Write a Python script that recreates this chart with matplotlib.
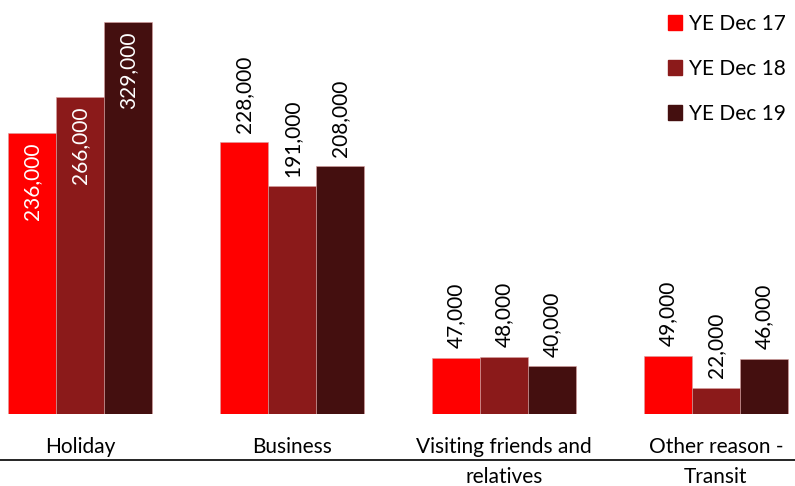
import numpy as np
import matplotlib
matplotlib.use("Agg")
import matplotlib.pyplot as plt
from matplotlib.lines import Line2D
from matplotlib.patches import Patch
import matplotlib.transforms as mtransforms

# Data
categories = ["Holiday", "Business", "Visiting friends and\nrelatives", "Other reason -\nTransit"]
series_names = ["YE Dec 17", "YE Dec 18", "YE Dec 19"]
ye_dec_17 = [236000, 228000, 47000, 49000]
ye_dec_18 = [266000, 191000, 48000, 22000]
ye_dec_19 = [329000, 208000, 40000, 46000]
colors = ["#FF0000", "#8B1A1A", "#440F0F"]

plt.rcParams["font.family"] = ["Lato", "DejaVu Sans"]
FS = 15

fig = plt.figure(figsize=(7.95, 4.86), dpi=100)
ax = fig.add_axes([0, 72 / 486, 1, 1 - 72 / 486 - 9 / 486])

x = np.arange(len(categories))
width = 48 / 212
all_series = [ye_dec_17, ye_dec_18, ye_dec_19]
for i, (vals, name, col) in enumerate(zip(all_series, series_names, colors)):
    pos = x + (i - 1) * width
    ax.bar(pos, vals, width=width, color=col, edgecolor="#d9a0a0", linewidth=0.4, label=name)
    for j, (px, v) in enumerate(zip(pos, vals)):
        lab = f"{v:,}"
        if j == 0:
            ax.annotate(lab, (px, v), xytext=(0, -7), textcoords="offset points",
                        rotation=90, ha="center", va="top", color="white", fontsize=FS)
        else:
            ax.annotate(lab, (px, v), xytext=(0, 7), textcoords="offset points",
                        rotation=90, ha="center", va="bottom", color="black", fontsize=FS)

ax.set_xlim(-80 / 212, 3 + 79 / 212)
ax.set_ylim(0, 340000)
ax.axis("off")

# category labels under bars
trans = mtransforms.blended_transform_factory(ax.transData, fig.transFigure)
for xi, cat in zip(x, categories):
    ax.text(xi, 1 - 437 / 486, cat, transform=trans, ha="center", va="top",
            fontsize=FS, linespacing=1.62)

fig.add_artist(Line2D([0, 1], [1 - 460 / 486, 1 - 460 / 486], color="black", linewidth=1.2))

handles = [Patch(color=c) for c in colors]
fig.legend(handles, series_names, loc="upper right", bbox_to_anchor=(1.005, 1.0),
           frameon=False, fontsize=FS, handlelength=0.7, handleheight=0.7,
           labelspacing=1.2, handletextpad=0.3, borderaxespad=0.25)

fig.savefig("out.png", dpi=100)
